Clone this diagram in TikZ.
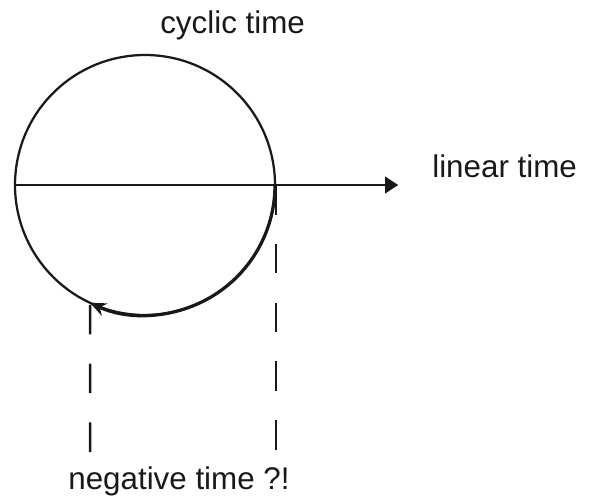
\documentclass[tikz,border=0pt]{standalone}
\usepackage{fontspec}
\setmainfont{Liberation Sans}
\usetikzlibrary{arrows.meta, positioning}
\tikzset{
    base/.style = {font=\fontsize{22.3}{26}\selectfont, text=black!90, inner sep=0pt},
    % Components
    label/.style = {base, anchor=base},
    wheel/.style = {circle, draw=black!90, line width=1.6pt, minimum size=6.5cm, outer sep=0pt, inner sep=0pt},
    % Edges
    axis/.style = {line width=1.6pt, draw=black!90, -{Triangle[length=0.33cm, width=0.42cm]}},
    backarc/.style = {line width=2.3pt, draw=black!90, -{Stealth[length=0.4cm, width=0.34cm]}},
    dashline/.style = {line width=1.7pt, draw=black!90, dash pattern=on 0.74cm off 0.73cm}
}
\begin{document}
\begin{tikzpicture}
    \useasboundingbox (-3.625,4.625) rectangle (11.175,-7.925);

    % Cycle
    \node (clock) [wheel] at (0,0) {};

    % Labels
    \node (cyclic) [label] at (2.19,3.8) {cyclic time};
    \node (linear) [label] at (8.99,0.2) {linear time};
    \node (negative) [label] at (0.85,-7.6) {negative time ?!};

    % Free ends
    \coordinate (tip) at (6.33,0);
    \coordinate (rtop) at (3.28,0);
    \coordinate (rfoot) at (3.28,-6.675);
    \coordinate (lfoot) at (-1.3735,-6.675);

    % --- Connections ---
    \draw [axis] (clock.west) -- (tip);
    \draw [backarc] (clock.east) arc[start angle=0, end angle=-115, radius=3.25cm];

    % Projections down
    \draw [dashline] (rtop) -- (rfoot);
    \draw [dashline] (lfoot) -- (clock.-115);

\end{tikzpicture}
\end{document}
